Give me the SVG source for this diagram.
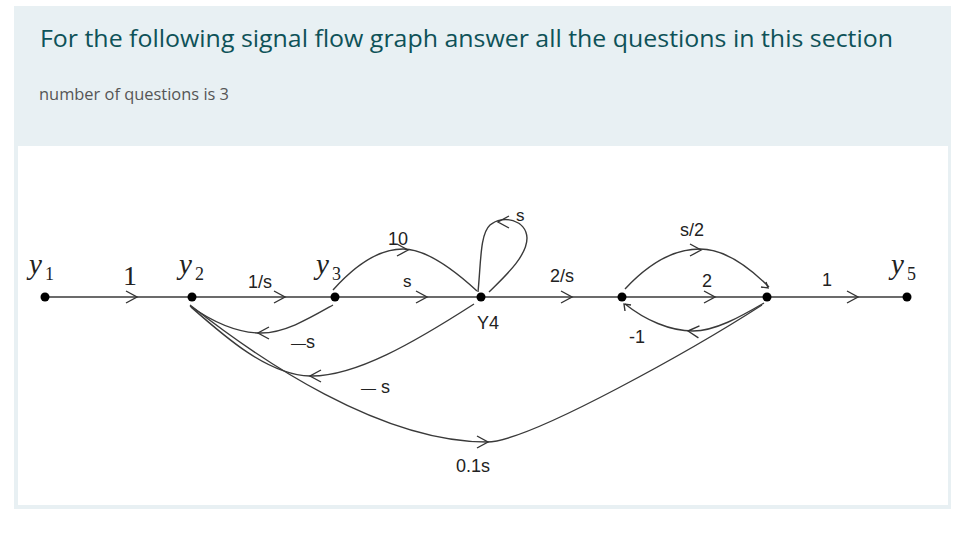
<svg xmlns="http://www.w3.org/2000/svg" xmlns:xlink="http://www.w3.org/1999/xlink" width="974" height="550" viewBox="0 0 974 550">
<style>
.edge{fill:none;stroke:#3a3a3a;stroke-width:1.4}
.chev{fill:none;stroke:#333;stroke-width:1.4;stroke-linejoin:miter}
.dot{fill:#000}
.var{font-family:"Liberation Serif",serif;font-style:italic;font-size:29px;fill:#222}
.sub{font-family:"Liberation Serif",serif;font-size:18px;fill:#222}
.one{font-family:"Liberation Serif",serif;font-size:28px;fill:#222}
.lbl{font-family:"Liberation Sans",Arial,sans-serif;font-size:18px;fill:#222}
.lbls{font-family:"Liberation Sans",Arial,sans-serif;font-size:17px;fill:#222}
</style>
<defs>
<path id="chev" class="chev" d="M-11,-6 L0,0 L-11,6"/>
</defs>
<rect width="974" height="550" fill="#ffffff"/>
<rect x="14" y="6" width="937" height="503" fill="#e8f0f3"/>
<rect x="18" y="146" width="930" height="359" fill="#ffffff"/>
<text x="40" y="47" font-family="'Open Sans','Noto Sans',sans-serif" font-size="24" fill="#0e5258" textLength="853" lengthAdjust="spacingAndGlyphs">For the following signal flow graph answer all the questions in this section</text>
<text x="39" y="100" font-family="'Open Sans','Noto Sans',sans-serif" font-size="16" fill="#555555" textLength="190" lengthAdjust="spacingAndGlyphs">number of questions is 3</text>

<g id="connectors">
<path class="edge" d="M45,297 L907,297"/>
<use href="#chev" transform="translate(137,297)"/>
<use href="#chev" transform="translate(285,297)"/>
<use href="#chev" transform="translate(427,297)"/>
<use href="#chev" transform="translate(572,297)"/>
<use href="#chev" transform="translate(715,297)"/>
<use href="#chev" transform="translate(858,297)"/>
<!-- 10 branch -->
<path class="edge" d="M333,290 C358,262 382,249 403,249 C425,249 452,268 477,291"/>
<use href="#chev" transform="translate(408,250)"/>
<!-- self loop -->
<path class="edge" d="M478,292 C481,262 480,234 490,225 C503,214 526,220 527,238 C527,257 503,278 489,292"/>
<use href="#chev" transform="translate(498,222) rotate(180)"/>
<!-- -s loop y3->y2 -->
<path class="edge" d="M333,305 C310,318 285,333 261,333 C236,333 210,320 190,306"/>
<use href="#chev" transform="translate(258,333) rotate(180)"/>
<!-- -s loop Y4->y2 -->
<path class="edge" d="M474,304 C415,342 355,377 310,376 C268,375 225,337 191,307"/>
<use href="#chev" transform="translate(310,376) rotate(180)"/>
<!-- 0.1s arc -->
<path class="edge" d="M190,305 C260,360 380,442 487,442 C530,442 700,345 762,305"/>
<use href="#chev" transform="translate(488,442)"/>
<!-- s/2 branch -->
<path class="edge" d="M625,289 C650,262 675,249 700,249 C725,249 750,268 769,287"/>
<use href="#chev" transform="translate(701,250)"/>
<path class="chev" d="M761,287 L768,288 L766,282"/>
<!-- -1 loop -->
<path class="edge" d="M764,303 C740,317 715,331 693,331 C670,331 645,320 625,304"/>
<use href="#chev" transform="translate(688,331) rotate(185)"/>
<path class="chev" d="M625,311 L624,304 L631,305"/>
</g>

<g id="n-y1"><circle class="dot" cx="45" cy="297" r="4.5"/><text class="var" x="29" y="274">y</text><text class="sub" x="45" y="280">1</text></g>
<g id="n-y2"><circle class="dot" cx="192" cy="297" r="4.5"/><text class="var" x="179" y="274">y</text><text class="sub" x="195" y="280">2</text></g>
<g id="n-y3"><circle class="dot" cx="335" cy="297" r="4.5"/><text class="var" x="316" y="274">y</text><text class="sub" x="332" y="280">3</text></g>
<g id="n-y4"><circle class="dot" cx="481" cy="297" r="4.5"/><text class="lbl" x="477" y="329">Y4</text></g>
<g id="n-5"><circle class="dot" cx="622" cy="297" r="4.5"/></g>
<g id="n-6"><circle class="dot" cx="767" cy="297" r="4.5"/></g>
<g id="n-y5"><circle class="dot" cx="907" cy="297" r="4.5"/><text class="var" x="891" y="274">y</text><text class="sub" x="907" y="280">5</text></g>

<g id="labels">
<text class="one" x="123" y="285">1</text>
<text class="lbl" x="248" y="288">1/s</text>
<text class="lbl" x="388" y="245">10</text>
<text class="lbls" x="403" y="287">s</text>
<text class="lbls" x="516" y="221">s</text>
<text class="lbl" x="550" y="282">2/s</text>
<text class="lbl" x="680" y="236">s/2</text>
<text class="lbl" x="702" y="287">2</text>
<text class="lbl" x="822" y="286">1</text>
<text class="lbl" x="629" y="343">-1</text>
<text class="lbl" x="291" y="348"><tspan font-size="15">—</tspan>s</text>
<text class="lbl" x="361" y="393"><tspan font-size="15">—</tspan> s</text>
<text class="lbl" x="456" y="472">0.1s</text>
</g>
</svg>
